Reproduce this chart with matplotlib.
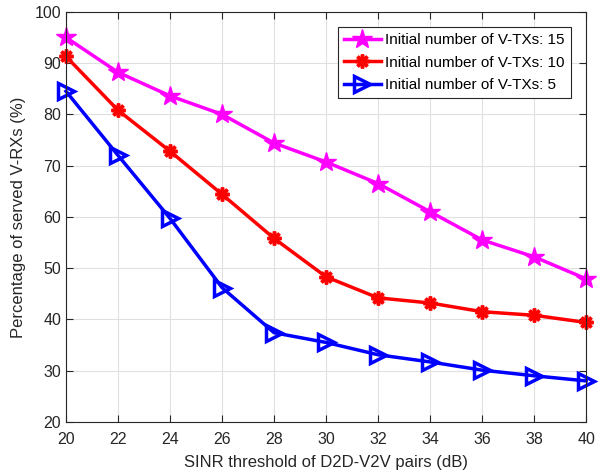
import matplotlib.pyplot as plt
import numpy as np

plt.rcParams['font.family'] = ['Liberation Sans', 'DejaVu Sans']

sinr = [20, 22, 24, 26, 28, 30, 32, 34, 36, 38, 40]
served_15 = [95.0, 88.2, 83.6, 80.0, 74.4, 70.7, 66.5, 61.0, 55.5, 52.2, 47.9]
served_10 = [91.3, 80.8, 72.8, 64.4, 55.8, 48.3, 44.2, 43.2, 41.5, 40.8, 39.4]
served_5 = [84.5, 72.0, 59.7, 46.2, 37.4, 35.5, 33.1, 31.7, 30.1, 29.0, 28.0]
labels = ['Initial number of V-TXs: 15', 'Initial number of V-TXs: 10', 'Initial number of V-TXs: 5']

fig = plt.figure(figsize=(6, 4.73), dpi=100)
ax = fig.add_axes([0.11, 0.108, 0.867, 0.867])

ax.plot(sinr, served_15, color='magenta', lw=2.5, marker='*', markersize=15, label=labels[0], clip_on=False)
ax.plot(sinr, served_10, color='red', lw=2.5, marker=(8, 2, 0), markersize=10, mew=2.5, label=labels[1], clip_on=False)
ax.plot(sinr, served_5, color='blue', lw=2.5, marker='>', markersize=11, mfc='none', mew=2.5, label=labels[2], clip_on=False)

ax.set_xlim(20, 40)
ax.set_ylim(20, 100)
ax.set_xticks(np.arange(20, 41, 2))
ax.set_yticks(np.arange(20, 101, 10))
ax.grid(True, color='#e0e0e0', lw=0.8)
ax.set_axisbelow(True)
ax.tick_params(direction='in', top=True, right=True, labelsize=11.5, colors='#262626', length=5)
ax.tick_params(axis='x', pad=7)
for s in ax.spines.values():
    s.set_color('#262626')
    s.set_linewidth(0.8)

ax.set_xlabel('SINR threshold of D2D-V2V pairs (dB)', fontsize=12, color='#262626', labelpad=6)
ax.set_ylabel('Percentage of served V-RXs (%)', fontsize=12, color='#262626', labelpad=6)

leg = ax.legend(loc='upper right', fontsize=11, fancybox=False, edgecolor='#262626',
                framealpha=1, borderaxespad=1.0, handlelength=2.4, labelspacing=0.55,
                handletextpad=0.3, borderpad=0.4)
leg.get_frame().set_linewidth(0.8)

fig.savefig('out.png')
